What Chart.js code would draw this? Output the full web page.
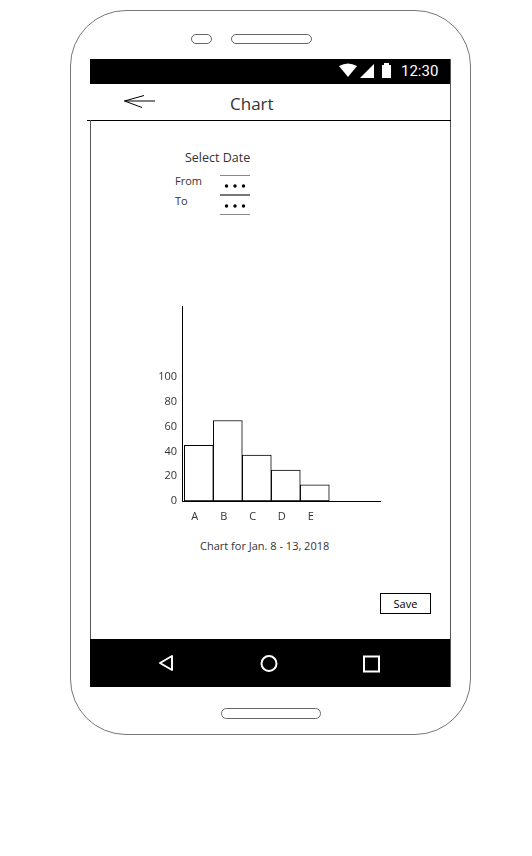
<!DOCTYPE html>
<html>
<head>
<meta charset="utf-8">
<title>Chart</title>
<script src="https://cdn.jsdelivr.net/npm/chart.js@4.4.1/dist/chart.umd.min.js"></script>
<style>
  html, body { margin: 0; padding: 0; background: #fff; }
  body { width: 532px; height: 856px; position: relative; overflow: hidden; font-family: "Open Sans", sans-serif; color: #333; }
  .abs { position: absolute; }
  .phone { left: 70px; top: 10px; width: 401px; height: 725px; border: 1px solid #777; border-radius: 56px; box-sizing: border-box; }
  .pill { border: 1px solid #666; border-radius: 6px; box-sizing: border-box; }
  .bar { background: #000; left: 90px; width: 360px; }
  .txt { white-space: nowrap; line-height: 1; }
  .field { left: 220px; width: 30px; height: 0; border-top: 1px solid #888; }
</style>
</head>
<body>
<div class="abs phone"></div>
<div class="abs pill" style="left:191px;top:34px;width:21px;height:10px;"></div>
<div class="abs pill" style="left:231px;top:34px;width:81px;height:10px;"></div>

<!-- status bar -->
<div class="abs bar" style="top:59px;height:25px;"></div>
<div class="abs" style="left:450px;top:59px;width:1px;height:628px;background:#555;"></div>
<svg class="abs" style="left:336px;top:62px;" width="60" height="20">
  <path d="M3 4 Q12 -1 21 4 L12 15 Z" fill="#fff"/>
  <path d="M24 16 L38 2 L38 16 Z" fill="#fff"/>
  <rect x="46" y="3" width="9" height="13" fill="#fff"/>
  <rect x="48" y="1" width="5" height="3" fill="#fff"/>
</svg>
<div class="abs txt" style="left:401px;top:64px;font-family:Roboto,sans-serif;font-size:15px;color:#fff;">12:30</div>

<!-- header -->
<svg class="abs" style="left:120px;top:92px;" width="40" height="20">
  <path d="M4.5 9 L35 9 M4.5 9 L24 3.5 M4.5 9 L22 15.5" stroke="#000" stroke-width="1" fill="none"/>
</svg>
<div class="abs txt" style="left:230px;top:95px;font-size:17px;">Chart</div>
<div class="abs" style="left:87px;top:120px;width:364px;height:1px;background:#000;"></div>
<div class="abs" style="left:90px;top:120px;width:1px;height:519px;background:#555;"></div>

<!-- date selection -->
<div class="abs txt" style="left:185px;top:152px;font-size:12.5px;">Select Date</div>
<div class="abs txt" style="left:175px;top:175px;font-size:11px;">From</div>
<div class="abs txt" style="left:175px;top:195px;font-size:11px;">To</div>
<div class="abs field" style="top:175px;"></div>
<div class="abs field" style="top:194px;border-top:2px solid #777;"></div>
<div class="abs field" style="top:214px;"></div>
<svg class="abs" style="left:220px;top:180px;" width="30" height="30">
  <circle cx="6.5" cy="6" r="1.7" fill="#000"/>
  <circle cx="15" cy="6" r="1.7" fill="#000"/>
  <circle cx="23.5" cy="6" r="1.7" fill="#000"/>
  <circle cx="6.5" cy="26" r="1.7" fill="#000"/>
  <circle cx="15" cy="26" r="1.7" fill="#000"/>
  <circle cx="23.5" cy="26" r="1.7" fill="#000"/>
</svg>

<!-- chart -->
<div class="abs" style="left:150px;top:295px;width:240px;height:231px;">
  <canvas id="chart" width="240" height="231"></canvas>
</div>
<div class="abs txt" style="left:200px;top:540px;font-size:11px;">Chart for Jan. 8 - 13, 2018</div>

<!-- save -->
<div class="abs" style="left:380px;top:593px;width:51px;height:21px;border:1px solid #000;box-sizing:border-box;font-size:11px;text-align:center;line-height:19px;color:#000;">Save</div>

<!-- nav bar -->
<div class="abs bar" style="top:639px;height:48px;"></div>
<svg class="abs" style="left:150px;top:648px;" width="240" height="30">
  <path d="M10 15 L22 8 L22 22 Z" stroke="#fff" stroke-width="2" fill="none" stroke-linejoin="round"/>
  <circle cx="119" cy="15.5" r="7.5" stroke="#fff" stroke-width="2" fill="none"/>
  <rect x="214" y="8.5" width="15" height="15" stroke="#fff" stroke-width="2" fill="none"/>
</svg>
<div class="abs pill" style="left:221px;top:708px;width:100px;height:11px;"></div>

<script>
// dữ liệu biểu đồ
const categories = ['A', 'B', 'C', 'D', 'E'];
const values = [45, 65, 37, 25, 13];
const yTickLabels = [0, 20, 40, 60, 80, 100];

const tickFont = { family: '"Open Sans", sans-serif', size: 11 };

const ctx = document.getElementById('chart').getContext('2d');
new Chart(ctx, {
    type: 'bar',
    data: {
        datasets: [{
            data: values.map((v, i) => ({ x: i, y: v })),
            backgroundColor: '#fff',
            borderColor: '#000',
            borderWidth: 1,
            borderSkipped: false,
            barPercentage: 1,
            categoryPercentage: 1
        }]
    },
    options: {
        responsive: false,
        animation: false,
        layout: { padding: { top: 10, right: 10, left: 0, bottom: 0 } },
        plugins: { legend: { display: false }, tooltip: { enabled: false } },
        scales: {
            x: {
                type: 'linear',
                offset: false,
                min: -0.58,
                max: 6.25,
                grid: { display: false, drawTicks: false },
                border: { display: true, color: '#000', width: 1 },
                ticks: {
                    stepSize: 1,
                    includeBounds: false,
                    autoSkip: false,
                    maxRotation: 0,
                    padding: 9,
                    labelOffset: -4,
                    color: '#333',
                    font: tickFont,
                    callback: function (value) {
                        return Number.isInteger(value) && categories[value] ? categories[value] : '';
                    }
                },
                afterFit: function (scale) { scale.height = 25; }
            },
            y: {
                min: 0,
                max: 157,
                grid: { display: false, drawTicks: false },
                border: { display: true, color: '#000', width: 1 },
                ticks: { padding: 5, color: '#333', font: tickFont },
                afterBuildTicks: function (scale) {
                    scale.ticks = yTickLabels.map(v => ({ value: v }));
                },
                afterFit: function (scale) { scale.width = 32; }
            }
        }
    }
});
</script>
</body>
</html>
